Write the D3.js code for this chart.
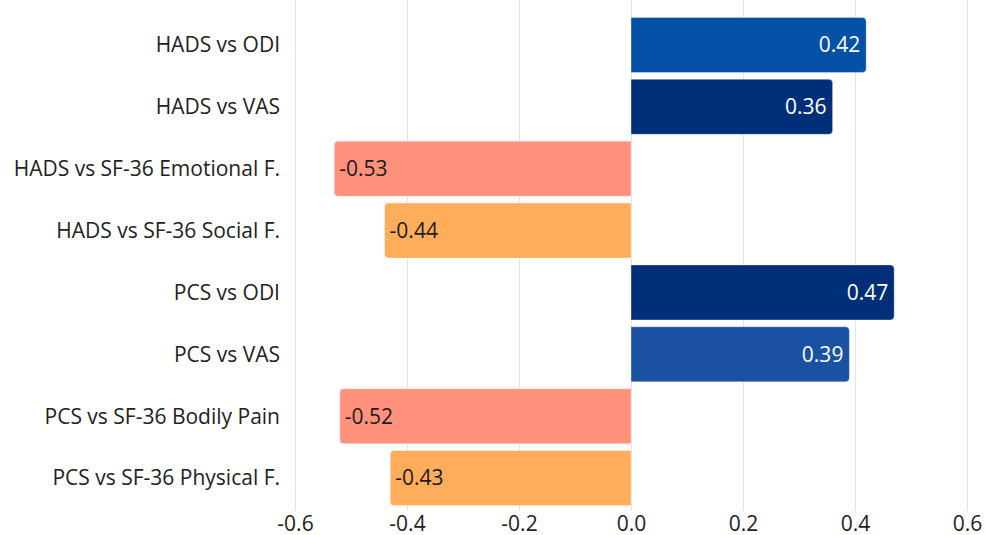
<!DOCTYPE html>
<html>
<head>
<meta charset="utf-8">
<script src="https://cdn.jsdelivr.net/npm/d3@7/dist/d3.min.js"></script>
<style>
  html, body { margin: 0; padding: 0; background: #fff; }
  svg { display: block; font-family: "Open Sans", sans-serif; }
</style>
</head>
<body>
<svg id="chart" width="985" height="535"></svg>
<script>
// Correlation pairs and their coefficients
const categories = [
  "HADS vs ODI",
  "HADS vs VAS",
  "HADS vs SF-36 Emotional F.",
  "HADS vs SF-36 Social F.",
  "PCS vs ODI",
  "PCS vs VAS",
  "PCS vs SF-36 Bodily Pain",
  "PCS vs SF-36 Physical F."
];
const values = [0.42, 0.36, -0.53, -0.44, 0.47, 0.39, -0.52, -0.43];
const barColors = ["#0651a8", "#002f7a", "#ff917d", "#ffad5b", "#002f7a", "#1a51a2", "#ff917d", "#ffad5b"];
const tickValues = [-0.6, -0.4, -0.2, 0.0, 0.2, 0.4, 0.6];

const svg = d3.select("#chart");
const margin = { left: 295, right: 18, top: 14, bottom: 26 };
const W = 985, H = 535;
const fmt2 = v => d3.format(".2f")(v).replace("\u2212", "-");
const fmt1 = v => d3.format(".1f")(v).replace("\u2212", "-");

const x = d3.scaleLinear().domain([-0.6, 0.6]).range([margin.left, W - margin.right]);
const y = d3.scaleBand().domain(categories).range([margin.top, H - margin.bottom]).paddingInner(0.11).paddingOuter(0.055);

// vertical gridlines
svg.append("g").selectAll("line").data(tickValues).join("line")
  .attr("x1", d => Math.round(x(d)) + 0.5).attr("x2", d => Math.round(x(d)) + 0.5)
  .attr("y1", 0).attr("y2", H - margin.bottom + 2)
  .attr("stroke", "#e3e3e3").attr("stroke-width", 1);

// bar path: rounded corners only at the far end
function barPath(v, cat) {
  const x0 = x(0), x1 = x(v), y0 = y(cat), h = y.bandwidth();
  const r = 4;
  if (v >= 0) {
    return `M${x0},${y0}H${x1 - r}Q${x1},${y0} ${x1},${y0 + r}V${y0 + h - r}Q${x1},${y0 + h} ${x1 - r},${y0 + h}H${x0}Z`;
  }
  return `M${x0},${y0}H${x1 + r}Q${x1},${y0} ${x1},${y0 + r}V${y0 + h - r}Q${x1},${y0 + h} ${x1 + r},${y0 + h}H${x0}Z`;
}

const data = categories.map((c, i) => ({ c, v: values[i], col: barColors[i] }));

svg.append("g").selectAll("path").data(data).join("path")
  .attr("d", d => barPath(d.v, d.c))
  .attr("fill", d => d.col)
  .attr("stroke", "rgba(255,255,255,0.35)")
  .attr("stroke-width", 1);

// value labels inside bars
svg.append("g").selectAll("text").data(data).join("text")
  .attr("x", d => d.v >= 0 ? x(d.v) - 6 : x(d.v) + 5)
  .attr("y", d => y(d.c) + y.bandwidth() / 2)
  .attr("dy", "0.35em")
  .attr("text-anchor", d => d.v >= 0 ? "end" : "start")
  .attr("fill", d => d.v >= 0 ? "#ffffff" : "#1a1a1a")
  .attr("font-size", 21)
  .text(d => fmt2(d.v));

// category labels
svg.append("g").selectAll("text").data(categories).join("text")
  .attr("x", 280)
  .attr("y", d => y(d) + y.bandwidth() / 2)
  .attr("dy", "0.35em")
  .attr("text-anchor", "end")
  .attr("fill", "#222")
  .attr("font-size", 21)
  .text(d => d);

// x-axis tick labels
const xAxis = d3.axisBottom(x).tickValues(tickValues).tickFormat(fmt1).tickSize(0).tickPadding(0);
const ax = svg.append("g").attr("transform", `translate(0,${H - margin.bottom})`).call(xAxis);
ax.select(".domain").remove();
ax.selectAll("text")
  .attr("y", 15).attr("dy", "0.35em")
  .attr("font-size", 21).attr("font-family", "Open Sans, sans-serif").attr("fill", "#222");
</script>
</body>
</html>
